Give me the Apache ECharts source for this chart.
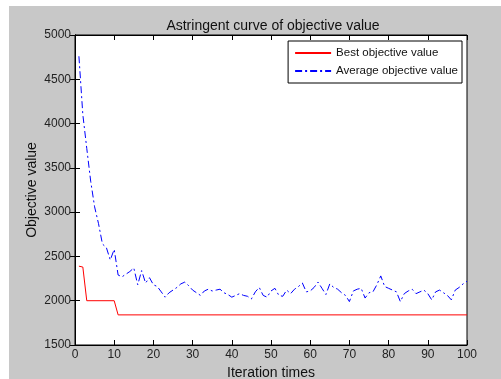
<!DOCTYPE html>
<html>
<head>
<meta charset="utf-8">
<script src="https://cdn.jsdelivr.net/npm/echarts@6/dist/echarts.min.js"></script>
<style>
  html, body { margin: 0; padding: 0; background: #fff; }
  #chart { width: 501px; height: 379px; }
</style>
</head>
<body>
<div id="chart"></div>
<script>
// best objective value: step points
const bestIter = [1, 2, 3, 10, 11, 100];
const bestValue = [2390, 2380, 2000, 2000, 1840, 1840];

// average objective value, one per iteration (1..100)
const avgValue = [
  4760, 4100, 3720, 3350, 3060, 2870, 2640, 2600, 2460, 2580,
  2290, 2270, 2300, 2330, 2370, 2180, 2340, 2200, 2260, 2180,
  2160, 2100, 2040, 2090, 2120, 2150, 2190, 2210, 2170, 2120,
  2090, 2060, 2110, 2130, 2110, 2120, 2130, 2090, 2070, 2040,
  2060, 2080, 2060, 2050, 2020, 2100, 2150, 2060, 2040, 2110,
  2140, 2060, 2050, 2120, 2080, 2130, 2160, 2200, 2100, 2110,
  2150, 2210, 2140, 2070, 2190, 2150, 2130, 2090, 2060, 1990,
  2110, 2130, 2140, 2030, 2090, 2100, 2180, 2280, 2160, 2140,
  2120, 2100, 1990, 2080, 2110, 2130, 2080, 2100, 2120, 2080,
  2010, 2100, 2120, 2090, 2060, 2010, 2120, 2150, 2190, 2220
];

const xTicks = [0, 10, 20, 30, 40, 50, 60, 70, 80, 90, 100];
const yTicks = [1500, 2000, 2500, 3000, 3500, 4000, 4500, 5000];

const font = 'Liberation Sans, Arial, sans-serif';
const chart = echarts.init(document.getElementById('chart'));

const bestData = bestIter.map((x, i) => [x, bestValue[i]]);
const avgData = avgValue.map((v, i) => [i + 1, v]);

const tickStyle = { inside: true, length: 5, lineStyle: { color: '#000', width: 1 } };
const axisLineStyle = { show: true, lineStyle: { color: '#000', width: 1 } };

chart.setOption({
  backgroundColor: '#fff',
  animation: false,
  graphic: [{
    type: 'rect',
    z: -10,
    shape: { x: 9, y: 6, width: 492, height: 373 },
    style: { fill: '#c8c8c8' }
  }],
  title: {
    text: 'Astringent curve of objective value',
    left: 268,
    top: 14,
    textAlign: 'center',
    textStyle: { fontFamily: font, fontSize: 14, fontWeight: 'normal', color: '#111' }
  },
  legend: {
    right: 39,
    top: 41,
    orient: 'vertical',
    itemWidth: 36,
    itemHeight: 12,
    itemGap: 6,
    padding: [6, 4, 6, 6],
    backgroundColor: '#fff',
    borderColor: '#000',
    borderWidth: 1,
    borderRadius: 0,
    itemStyle: { opacity: 0 },
    textStyle: { fontFamily: font, fontSize: 11.5, color: '#111' },
    data: ['Best objective value', 'Average objective value']
  },
  grid: {
    left: 75, right: 34, top: 35, bottom: 34,
    outerBoundsMode: 'none',
    show: true, backgroundColor: '#fff', borderColor: '#000', borderWidth: 1
  },
  xAxis: [{
    type: 'value',
    min: 0, max: 100, interval: 10,
    name: 'Iteration times',
    nameLocation: 'middle',
    nameGap: 20,
    nameTextStyle: { fontFamily: font, fontSize: 14, color: '#111' },
    axisLine: axisLineStyle,
    axisTick: tickStyle,
    splitLine: { show: false },
    axisLabel: {
      fontFamily: font, fontSize: 12, color: '#222', margin: 4,
      customValues: xTicks
    }
  }, {
    type: 'value',
    position: 'top',
    min: 0, max: 100, interval: 10,
    axisLine: axisLineStyle,
    axisTick: tickStyle,
    splitLine: { show: false },
    axisLabel: { show: false }
  }],
  yAxis: [{
    type: 'value',
    min: 1500, max: 5000, interval: 500,
    name: 'Objective value',
    nameLocation: 'middle',
    nameGap: 36,
    nameMoveOverlap: false,
    nameTextStyle: { fontFamily: font, fontSize: 14, color: '#111' },
    axisLine: axisLineStyle,
    axisTick: tickStyle,
    splitLine: { show: false },
    axisLabel: {
      fontFamily: font, fontSize: 12, color: '#222', margin: 4,
      customValues: yTicks,
      formatter: v => String(v)
    }
  }, {
    type: 'value',
    position: 'right',
    min: 1500, max: 5000, interval: 500,
    axisLine: axisLineStyle,
    axisTick: tickStyle,
    splitLine: { show: false },
    axisLabel: { show: false }
  }],
  series: [{
    name: 'Best objective value',
    type: 'line',
    data: bestData,
    symbol: 'none',
    lineStyle: { color: '#ff0000', width: 1 },
    itemStyle: { color: '#ff0000' }
  }, {
    name: 'Average objective value',
    type: 'line',
    data: avgData,
    symbol: 'none',
    lineStyle: { color: '#0000ff', width: 1, type: [7, 3, 2, 3] },
    itemStyle: { color: '#0000ff' }
  }]
});
</script>
</body>
</html>
